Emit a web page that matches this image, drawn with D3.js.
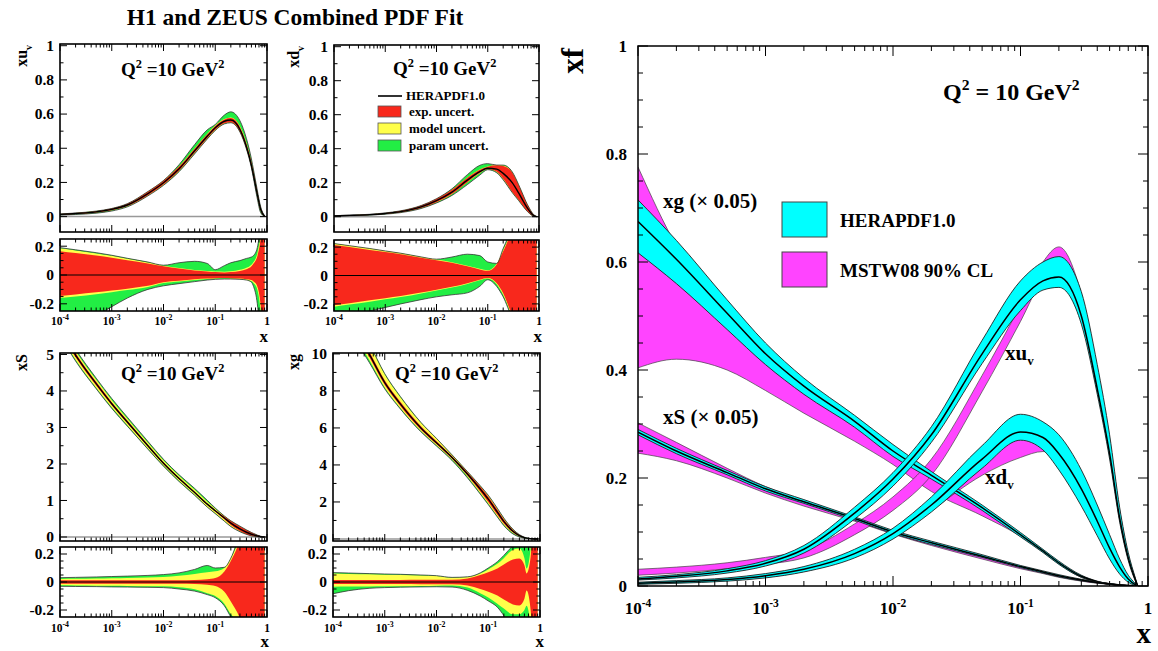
<!DOCTYPE html>
<html><head><meta charset="utf-8">
<script src="https://cdn.jsdelivr.net/npm/d3@7"></script>
<style>
body{margin:0;background:#fff}
svg{display:block}
text{font-family:"Liberation Serif","Times New Roman",serif;font-weight:bold;fill:#000}
</style>
</head><body>
<svg id="c" width="1158" height="651"></svg>
<script>
// ---------------- DATA ----------------
const smallX = [1e-4,2e-4,5e-4,1e-3,2e-3,5e-3,0.01,0.02,0.04,0.07,0.1,0.15,0.2,0.3,0.4,0.5,0.55,0.65,0.75,0.9];

const xuvCentral = [0.013,0.018,0.028,0.042,0.068,0.135,0.198,0.28,0.385,0.47,0.52,0.558,0.565,0.51,0.41,0.3,0.24,0.13,0.045,0.002];
const xuvExpUp = [0.165,0.152,0.135,0.12,0.103,0.08,0.06,0.045,0.032,0.025,0.02,0.018,0.02,0.028,0.04,0.06,0.08,0.13,0.25,0.6];
const xuvExpDn = [-0.145,-0.135,-0.12,-0.108,-0.095,-0.075,-0.05,-0.04,-0.03,-0.025,-0.022,-0.02,-0.022,-0.025,-0.03,-0.035,-0.045,-0.08,-0.2,-0.6];
const xuvModUp = [0.185,0.17,0.15,0.133,0.113,0.087,0.065,0.048,0.035,0.028,0.024,0.023,0.026,0.036,0.05,0.072,0.09,0.15,0.28,0.65];
const xuvModDn = [-0.16,-0.15,-0.133,-0.12,-0.105,-0.083,-0.056,-0.045,-0.034,-0.028,-0.025,-0.023,-0.025,-0.028,-0.034,-0.042,-0.055,-0.1,-0.24,-0.65];
const xuvTotUp = [0.19,0.175,0.155,0.137,0.116,0.09,0.068,0.085,0.095,0.08,0.037,0.065,0.085,0.1,0.115,0.125,0.135,0.19,0.35,0.7];
const xuvTotDn = [-0.35,-0.32,-0.28,-0.22,-0.16,-0.1,-0.075,-0.06,-0.046,-0.035,-0.03,-0.028,-0.028,-0.03,-0.035,-0.05,-0.08,-0.2,-0.45,-0.8];

const xdvCentral = [0.005,0.0075,0.012,0.019,0.03,0.058,0.095,0.145,0.215,0.265,0.285,0.28,0.255,0.2,0.14,0.088,0.066,0.034,0.012,0.0005];
const xdvExpUp = [0.215,0.2,0.18,0.165,0.15,0.125,0.108,0.09,0.065,0.043,0.033,0.08,0.17,0.3,0.33,0.36,0.38,0.45,0.6,0.9];
const xdvExpDn = [-0.21,-0.195,-0.175,-0.16,-0.145,-0.12,-0.1,-0.08,-0.055,-0.03,-0.018,-0.055,-0.125,-0.27,-0.3,-0.33,-0.35,-0.42,-0.55,-0.85];
const xdvModUp = [0.225,0.21,0.19,0.173,0.157,0.131,0.113,0.094,0.069,0.047,0.037,0.085,0.18,0.31,0.34,0.37,0.39,0.46,0.61,0.91];
const xdvModDn = [-0.22,-0.205,-0.185,-0.168,-0.152,-0.126,-0.105,-0.085,-0.06,-0.034,-0.022,-0.062,-0.135,-0.28,-0.31,-0.34,-0.36,-0.43,-0.56,-0.86];
const xdvTotUp = [0.225,0.21,0.19,0.173,0.157,0.131,0.115,0.13,0.15,0.14,0.095,0.085,0.19,0.32,0.35,0.38,0.4,0.47,0.62,0.92];
const xdvTotDn = [-0.3,-0.28,-0.25,-0.225,-0.2,-0.17,-0.15,-0.136,-0.122,-0.076,-0.03,-0.078,-0.15,-0.29,-0.32,-0.35,-0.37,-0.44,-0.57,-0.87];

const xsCentral = [5.7,4.98,4.2,3.65,3.15,2.5,2.02,1.6,1.22,0.9,0.72,0.52,0.38,0.22,0.13,0.075,0.056,0.028,0.011,0.001];
const xsExpUp = [0.012,0.012,0.012,0.012,0.012,0.012,0.012,0.013,0.015,0.02,0.028,0.075,0.15,0.3,0.45,0.6,0.7,0.85,1,1];
const xsExpDn = [-0.012,-0.012,-0.012,-0.012,-0.012,-0.012,-0.012,-0.013,-0.015,-0.02,-0.028,-0.07,-0.14,-0.26,-0.4,-0.55,-0.65,-0.8,-0.9,-1];
const xsModUp = [0.022,0.023,0.025,0.027,0.029,0.032,0.036,0.045,0.058,0.07,0.076,0.1,0.17,0.32,0.47,0.62,0.72,0.87,1,1];
const xsModDn = [-0.024,-0.025,-0.026,-0.027,-0.028,-0.03,-0.031,-0.038,-0.052,-0.08,-0.1,-0.155,-0.23,-0.3,-0.42,-0.57,-0.67,-0.82,-0.92,-1];
const xsTotUp = [0.031,0.033,0.036,0.039,0.042,0.047,0.053,0.065,0.09,0.118,0.1,0.105,0.17,0.35,0.5,0.65,0.75,0.9,1,1];
const xsTotDn = [-0.031,-0.032,-0.033,-0.035,-0.036,-0.038,-0.04,-0.05,-0.065,-0.09,-0.112,-0.17,-0.25,-0.35,-0.45,-0.6,-0.7,-0.85,-0.95,-1];

const xgCentral = [13.5,12.0,10.0,8.45,7.3,6.0,5.2,4.4,3.5,2.7,2.15,1.45,0.95,0.42,0.18,0.075,0.048,0.018,0.006,0.0005];
const xgExpUp = [0.015,0.015,0.015,0.015,0.015,0.016,0.016,0.016,0.025,0.05,0.07,0.097,0.125,0.16,0.168,0.12,0.06,0.16,0.5,1];
const xgExpDn = [-0.015,-0.015,-0.015,-0.015,-0.015,-0.016,-0.016,-0.016,-0.025,-0.05,-0.07,-0.097,-0.125,-0.16,-0.168,-0.12,-0.06,-0.18,-0.5,-1];
const xgModUp = [0.06,0.058,0.055,0.052,0.05,0.047,0.043,0.03,0.035,0.06,0.09,0.13,0.17,0.23,0.24,0.17,0.096,0.22,0.6,1];
const xgModDn = [-0.034,-0.033,-0.032,-0.031,-0.03,-0.028,-0.026,-0.025,-0.04,-0.08,-0.11,-0.155,-0.19,-0.23,-0.23,-0.2,-0.17,-0.3,-0.6,-1];
const xgTotUp = [0.067,0.064,0.06,0.057,0.055,0.05,0.045,0.033,0.037,0.065,0.1,0.145,0.19,0.26,0.3,0.3,0.3,0.35,0.7,1];
const xgTotDn = [-0.084,-0.062,-0.045,-0.04,-0.037,-0.035,-0.034,-0.036,-0.06,-0.1,-0.135,-0.18,-0.24,-0.35,-0.4,-0.4,-0.4,-0.5,-0.8,-1];

// right panel (xg and xS scaled by 0.05)
const rightX = [1e-4,2e-4,5e-4,1e-3,2e-3,5e-3,0.01,0.02,0.05,0.1,0.15,0.2,0.3,0.4,0.5,0.6,0.7,0.8,0.83];

const heraXgC  = [0.675,0.605,0.505,0.43,0.37,0.305,0.25,0.205,0.145,0.095,0.065,0.043,0.018,0.008,0.0035,0.0015,0.0005,0.0001,0];
const heraXgLo = [0.617,0.56,0.475,0.41,0.355,0.294,0.24,0.198,0.14,0.091,0.062,0.04,0.016,0.007,0.003,0.001,0.0003,0,0];
const heraXgHi = [0.715,0.64,0.53,0.45,0.385,0.316,0.262,0.212,0.15,0.099,0.068,0.046,0.02,0.009,0.004,0.002,0.0007,0.0002,0];
const mstwXgLo = [0.404,0.42,0.40,0.362,0.32,0.268,0.225,0.175,0.13,0.092,0.063,0.041,0.016,0.007,0.003,0.001,0.0003,0,0];
const mstwXgHi = [0.776,0.63,0.505,0.43,0.37,0.305,0.25,0.205,0.145,0.095,0.065,0.043,0.018,0.008,0.0035,0.0015,0.0005,0.0001,0];

const heraXsC  = [0.285,0.25,0.21,0.18,0.156,0.125,0.1,0.08,0.055,0.036,0.026,0.019,0.011,0.0065,0.004,0.002,0.001,0.0003,0];
const heraXsLo = [0.28,0.245,0.206,0.176,0.153,0.122,0.097,0.077,0.053,0.034,0.024,0.017,0.0095,0.0055,0.0033,0.0016,0.0008,0.0002,0];
const heraXsHi = [0.29,0.255,0.214,0.184,0.16,0.128,0.103,0.083,0.058,0.038,0.028,0.021,0.0125,0.0075,0.0047,0.0025,0.0012,0.0004,0];
const mstwXsLo = [0.246,0.232,0.2,0.172,0.148,0.12,0.096,0.075,0.05,0.032,0.023,0.016,0.009,0.005,0.003,0.0015,0.0007,0.0002,0];
const mstwXsHi = [0.302,0.266,0.218,0.184,0.158,0.126,0.1,0.08,0.055,0.036,0.026,0.019,0.011,0.0065,0.004,0.002,0.001,0.0003,0];

const heraXuvC  = [0.013,0.018,0.028,0.042,0.068,0.135,0.198,0.28,0.43,0.53,0.565,0.572,0.5,0.365,0.245,0.125,0.052,0.01,0];
const heraXuvLo = [0.011,0.015,0.024,0.037,0.061,0.124,0.185,0.266,0.412,0.51,0.548,0.553,0.485,0.355,0.235,0.118,0.047,0.008,0];
const heraXuvHi = [0.016,0.021,0.032,0.047,0.075,0.146,0.21,0.295,0.455,0.565,0.6,0.61,0.545,0.41,0.28,0.145,0.062,0.013,0];
const mstwXuvLo = [0.02,0.024,0.032,0.04,0.052,0.095,0.14,0.205,0.36,0.49,0.57,0.6,0.52,0.38,0.25,0.13,0.052,0.01,0];
const mstwXuvHi = [0.031,0.035,0.043,0.053,0.066,0.115,0.165,0.235,0.39,0.52,0.6,0.628,0.54,0.4,0.27,0.14,0.058,0.012,0];

const heraXdvC  = [0.005,0.0075,0.012,0.019,0.031,0.06,0.097,0.15,0.235,0.285,0.275,0.245,0.18,0.12,0.07,0.035,0.013,0.002,0];
const heraXdvLo = [0.003,0.005,0.009,0.015,0.026,0.052,0.087,0.137,0.218,0.27,0.252,0.215,0.148,0.093,0.05,0.022,0.007,0.001,0];
const heraXdvHi = [0.007,0.01,0.015,0.023,0.036,0.068,0.107,0.165,0.26,0.318,0.304,0.28,0.215,0.15,0.095,0.05,0.02,0.004,0];
const mstwXdvLo = [0.004,0.006,0.01,0.016,0.027,0.054,0.09,0.14,0.205,0.238,0.249,0.235,0.175,0.115,0.065,0.032,0.012,0.002,0];
const mstwXdvHi = [0.006,0.009,0.013,0.02,0.032,0.06,0.098,0.15,0.23,0.28,0.275,0.25,0.19,0.13,0.08,0.04,0.015,0.003,0];

const xDecades = [1e-4,1e-3,1e-2,1e-1,1];
const legendSmall = ["HERAPDF1.0","exp. uncert.","model uncert.","param uncert."];
const legendRight = ["HERAPDF1.0","MSTW08 90% CL"];

// ---------------- DRAWING ----------------
const svg = d3.select("#c");
const defs = svg.append("defs");
const C_TOT = "#22ee44", C_MOD = "#ffff4a", C_EXP = "#f8281c";
const C_HERA = "#00ffff", C_MSTW = "#ff44ff";
let clipN = 0;
function clipFor(xs, ys){
  const id = "cl"+(clipN++);
  const [x0,x1]=xs.range(), [y0,y1]=ys.range();
  defs.append("clipPath").attr("id",id).append("rect")
    .attr("x",x0).attr("y",y1).attr("width",x1-x0).attr("height",y0-y1);
  return "url(#"+id+")";
}
function expLabel(g, x, y, v, fs){
  const e = Math.round(Math.log10(v));
  const t = g.append("text").attr("x",x).attr("y",y).attr("text-anchor","middle").attr("font-size",fs);
  if(e===0){ t.text("1"); return; }
  t.append("tspan").text("10");
  t.append("tspan").attr("dy",-fs*0.42).attr("font-size",fs*0.68).text(String(e));
}
function frame(xs, ys, o){
  const g = svg.append("g");
  const [X0,X1]=xs.range(), [Y0,Y1]=ys.range();
  const tk=(a,b,c,d,w)=>g.append("line").attr("x1",a).attr("y1",b).attr("x2",c).attr("y2",d)
     .attr("stroke","#000").attr("stroke-width",w||1);
  xDecades.forEach(v=>{const p=xs(v); tk(p,Y0,p,Y0-o.maj); tk(p,Y1,p,Y1+o.maj);});
  for(let e=-4;e<0;e++) for(let k=2;k<10;k++){const p=xs(k*Math.pow(10,e)); tk(p,Y0,p,Y0-o.min); tk(p,Y1,p,Y1+o.min);}
  o.yMajor.forEach(v=>{const p=ys(v); tk(X0,p,X0+o.maj,p); tk(X1,p,X1-o.maj,p);});
  (o.yMinor||[]).forEach(v=>{const p=ys(v); tk(X0,p,X0+o.min,p); tk(X1,p,X1-o.min,p);});
  g.append("rect").attr("x",X0).attr("y",Y1).attr("width",X1-X0).attr("height",Y0-Y1)
    .attr("fill","none").attr("stroke","#000").attr("stroke-width",o.sw||1.5);
  if(o.yLab){
    o.yMajor.forEach(v=>{
      g.append("text").attr("x",X0-o.yPad).attr("y",ys(v)+o.yFs*0.35).attr("text-anchor","end")
        .attr("font-size",o.yFs).text(o.fmt?o.fmt(v):String(v));
    });
  }
  if(o.xLab){ xDecades.forEach(v=>expLabel(g, xs(v), o.xLabY, v, o.xFs)); }
  return g;
}
function range(a,b,s){const r=[];for(let v=a;v<=b+1e-9;v+=s)r.push(+v.toFixed(4));return r;}

function bands(xs, ys, central, r, isRatio){
  const g = svg.append("g").attr("clip-path", clipFor(xs,ys));
  const val=(i,rel)=> isRatio ? rel : central[i]*(1+rel);
  if(!isRatio){
    g.append("line").attr("x1",xs.range()[0]).attr("x2",xs.range()[1]).attr("y1",ys(0)).attr("y2",ys(0))
      .attr("stroke","#999").attr("stroke-width",1.5);
  }
  [[r.totDn,r.totUp,C_TOT],[r.modDn,r.modUp,C_MOD],[r.expDn,r.expUp,C_EXP]].forEach(([dn,up,col])=>{
    const area=d3.area().x((d,i)=>xs(smallX[i])).y0((d,i)=>ys(val(i,dn[i]))).y1((d,i)=>ys(val(i,up[i])))
      .curve(d3.curveMonotoneX);
    g.append("path").datum(smallX).attr("d",area).attr("fill",col);
  });
  [r.totDn,r.totUp].forEach(arr=>{
    const ln=d3.line().x((d,i)=>xs(smallX[i])).y((d,i)=>ys(val(i,arr[i]))).curve(d3.curveMonotoneX);
    g.append("path").datum(smallX).attr("d",ln).attr("fill","none").attr("stroke","#333").attr("stroke-width",0.8);
  });
  if(isRatio){
    g.append("line").attr("x1",xs.range()[0]).attr("x2",xs.range()[1]).attr("y1",ys(0)).attr("y2",ys(0))
      .attr("stroke","#000").attr("stroke-width",1.2);
  } else {
    const ln=d3.line().x((d,i)=>xs(smallX[i])).y((d,i)=>ys(central[i])).curve(d3.curveMonotoneX);
    g.append("path").datum(smallX).attr("d",ln).attr("fill","none").attr("stroke","#000").attr("stroke-width",1.4);
  }
}
function q2Label(x,y,fs,txt){
  const t=svg.append("text").attr("x",x).attr("y",y).attr("font-size",fs);
  t.append("tspan").text("Q");
  t.append("tspan").attr("dy",-fs*0.4).attr("font-size",fs*0.65).text("2");
  t.append("tspan").attr("dy",fs*0.4).text(txt);
  t.append("tspan").attr("dy",-fs*0.4).attr("font-size",fs*0.65).text("2");
}
function yTitle(x,y,main,sub,fs){
  const t=svg.append("text").attr("transform",`translate(${x},${y}) rotate(-90)`).attr("text-anchor","end").attr("font-size",fs);
  t.append("tspan").text(main);
  if(sub) t.append("tspan").attr("dy",fs*0.3).attr("font-size",fs*0.62).text(sub);
}

// title
svg.append("text").attr("x",295).attr("y",25).attr("text-anchor","middle").attr("font-size",23.5)
  .text("H1 and ZEUS Combined PDF Fit");

const panels = [
  {x0:60, x1:267, main:[232,44], mdom:[-0.09,1.01], rat:[311,239], central:xuvCentral,
   r:{expUp:xuvExpUp,expDn:xuvExpDn,modUp:xuvModUp,modDn:xuvModDn,totUp:xuvTotUp,totDn:xuvTotDn},
   yMajor:[0,0.2,0.4,0.6,0.8,1], yMinor:range(0.1,0.9,0.2), title:["xu","v"], tx:27, q:[121,76], xlab:[268,342], xLabY:325},
  {x0:334, x1:539, main:[232,45], mdom:[-0.09,1.01], rat:[311,240], central:xdvCentral,
   r:{expUp:xdvExpUp,expDn:xdvExpDn,modUp:xdvModUp,modDn:xdvModDn,totUp:xdvTotUp,totDn:xdvTotDn},
   yMajor:[0,0.2,0.4,0.6,0.8,1], yMinor:range(0.1,0.9,0.2), title:["xd","v"], tx:299, q:[393,75], xlab:[542,342], xLabY:325},
  {x0:60, x1:267, main:[541,353], mdom:[-0.11,5.04], rat:[617,547], central:xsCentral,
   r:{expUp:xsExpUp,expDn:xsExpDn,modUp:xsModUp,modDn:xsModDn,totUp:xsTotUp,totDn:xsTotDn},
   yMajor:[0,1,2,3,4,5], yMinor:range(0.5,4.5,1), title:["xS",""], tx:27, q:[121,380], xlab:[269,647], xLabY:632},
  {x0:333, x1:540, main:[541,353], mdom:[-0.11,10.05], rat:[617,547], central:xgCentral,
   r:{expUp:xgExpUp,expDn:xgExpDn,modUp:xgModUp,modDn:xgModDn,totUp:xgTotUp,totDn:xgTotDn},
   yMajor:[0,2,4,6,8,10], yMinor:range(1,9,2), title:["xg",""], tx:299, q:[395,380], xlab:[544,647], xLabY:632}
];
panels.forEach(p=>{
  const xs=d3.scaleLog().domain([1e-4,1]).range([p.x0,p.x1]);
  const ysM=d3.scaleLinear().domain(p.mdom).range(p.main);
  const ysR=d3.scaleLinear().domain([-0.25,0.25]).range(p.rat);
  bands(xs,ysM,p.central,p.r,false);
  bands(xs,ysR,p.central,p.r,true);
  frame(xs,ysM,{maj:7,min:3.5,yMajor:p.yMajor,yMinor:p.yMinor,yLab:true,yPad:6,yFs:15.5,sw:1.6});
  frame(xs,ysR,{maj:7,min:3.5,yMajor:[-0.2,0,0.2],yMinor:[-0.15,-0.1,-0.05,0.05,0.1,0.15],yLab:true,yPad:6,yFs:15.5,
    xLab:true,xLabY:p.xLabY,xFs:11.5,sw:1.6});
  yTitle(p.tx, p.main[1]+1, p.title[0], p.title[1], 16);
  q2Label(p.q[0],p.q[1],19," =10 GeV");
  svg.append("text").attr("x",p.xlab[0]).attr("y",p.xlab[1]).attr("text-anchor","end").attr("font-size",17).text("x");
});

// small legend
(function(){
  const g=svg.append("g");
  g.append("line").attr("x1",378).attr("x2",402).attr("y1",96).attr("y2",96).attr("stroke","#333").attr("stroke-width",2);
  g.append("text").attr("x",406).attr("y",100).attr("font-size",13).text(legendSmall[0]);
  const cols=[C_EXP,C_MOD,C_TOT], ys=[106,123,140];
  legendSmall.slice(1).forEach((t,i)=>{
    g.append("rect").attr("x",378).attr("y",ys[i]).attr("width",23).attr("height",11).attr("fill",cols[i]).attr("stroke","#555").attr("stroke-width",0.8);
    g.append("text").attr("x",409).attr("y",ys[i]+9.5).attr("font-size",13).text(t);
  });
})();

// ---------------- RIGHT PANEL ----------------
const rxs=d3.scaleLog().domain([1e-4,1]).range([638,1148]);
const rys=d3.scaleLinear().domain([0,1]).range([586,46]);
const rg=svg.append("g").attr("clip-path",clipFor(rxs,rys));
function rArea(lo,hi,fill,stroke,sw){
  const area=d3.area().x((d,i)=>rxs(rightX[i])).y0((d,i)=>rys(lo[i])).y1((d,i)=>rys(hi[i])).curve(d3.curveMonotoneX);
  rg.append("path").datum(rightX).attr("d",area).attr("fill",fill);
  [lo,hi].forEach(arr=>{
    const ln=d3.line().x((d,i)=>rxs(rightX[i])).y((d,i)=>rys(arr[i])).curve(d3.curveMonotoneX);
    rg.append("path").datum(rightX).attr("d",ln).attr("fill","none").attr("stroke",stroke).attr("stroke-width",sw);
  });
}
function rLine(arr){
  const ln=d3.line().x((d,i)=>rxs(rightX[i])).y((d,i)=>rys(arr[i])).curve(d3.curveMonotoneX);
  rg.append("path").datum(rightX).attr("d",ln).attr("fill","none").attr("stroke","#000").attr("stroke-width",1.5);
}
[[mstwXgLo,mstwXgHi],[mstwXsLo,mstwXsHi],[mstwXuvLo,mstwXuvHi],[mstwXdvLo,mstwXdvHi]].forEach(([l,h])=>rArea(l,h,C_MSTW,"#444",0.7));
[[heraXgLo,heraXgHi,heraXgC],[heraXsLo,heraXsHi,heraXsC],[heraXuvLo,heraXuvHi,heraXuvC],[heraXdvLo,heraXdvHi,heraXdvC]]
  .forEach(([l,h,c])=>{rArea(l,h,C_HERA,"#222",0.9); rLine(c);});

frame(rxs,rys,{maj:10,min:5,yMajor:[0,0.2,0.4,0.6,0.8,1],yMinor:range(0.05,0.95,0.05).filter(v=>Math.abs(v*5-Math.round(v*5))>1e-6),
  yLab:true,yPad:11,yFs:17,xLab:true,xLabY:614,xFs:17,sw:1.5});

// right labels
svg.append("text").attr("transform","translate(583,48) rotate(-90)").attr("text-anchor","end").attr("font-size",31).text("xf");
svg.append("text").attr("x",1151).attr("y",643).attr("text-anchor","end").attr("font-size",29).text("x");
q2Label(943,100,24," = 10 GeV");
svg.append("text").attr("x",663).attr("y",208).attr("font-size",21).text("xg (× 0.05)");
svg.append("text").attr("x",663).attr("y",424).attr("font-size",21).text("xS (× 0.05)");
(function(){
  const a=svg.append("text").attr("x",1005).attr("y",360).attr("font-size",21);
  a.append("tspan").text("xu"); a.append("tspan").attr("dy",5).attr("font-size",13).text("v");
  const b=svg.append("text").attr("x",985).attr("y",484).attr("font-size",21);
  b.append("tspan").text("xd"); b.append("tspan").attr("dy",5).attr("font-size",13).text("v");
})();
// right legend
[[C_HERA,202,legendRight[0]],[C_MSTW,252,legendRight[1]]].forEach(([c,y,t])=>{
  svg.append("rect").attr("x",782).attr("y",y).attr("width",45).attr("height",35).attr("fill",c).attr("stroke","#444").attr("stroke-width",1);
  svg.append("text").attr("x",840).attr("y",y+25).attr("font-size",19).text(t);
});
</script>
</body></html>
